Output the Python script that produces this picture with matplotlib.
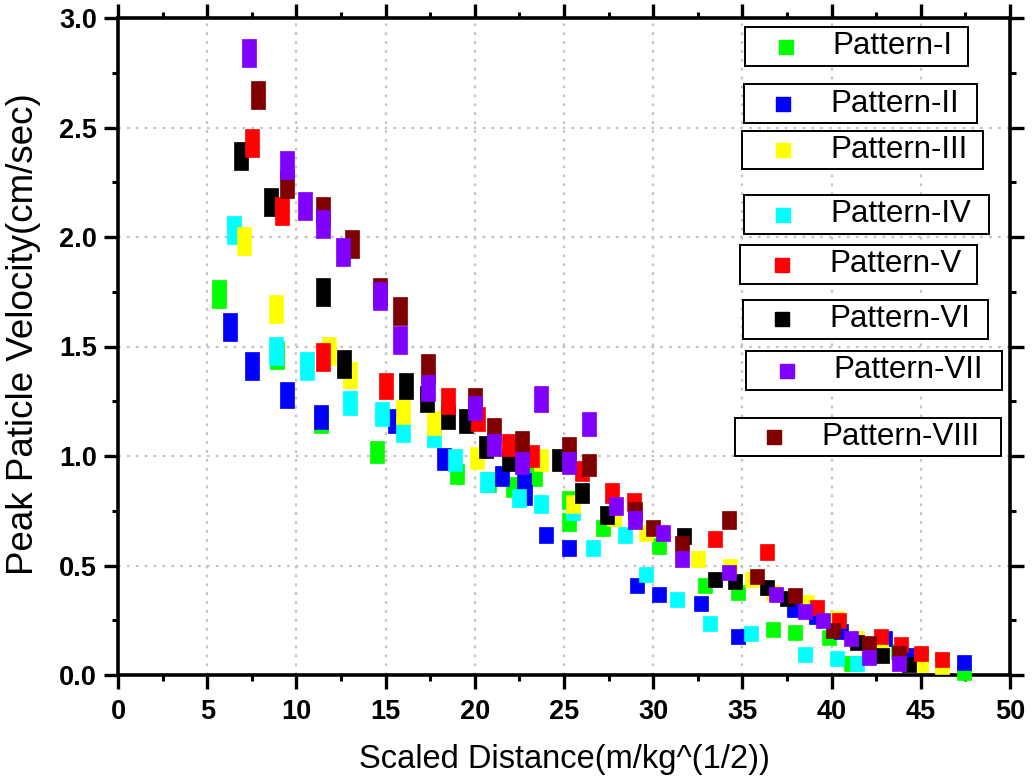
import numpy as np
import matplotlib
matplotlib.use("Agg")
import matplotlib.pyplot as plt
from matplotlib.path import Path
from matplotlib.patches import Rectangle
from matplotlib.lines import Line2D
from matplotlib.ticker import MultipleLocator

plt.rcParams['font.family'] = ['Liberation Sans', 'DejaVu Sans']

# scaled distance / peak particle velocity for each blasting pattern
p1_x = [5.65, 8.9, 11.36, 14.5, 18.99, 20.8, 22.15, 23.4, 25.3, 25.3, 27.2, 30.35, 32.9, 34.76,
        36.7, 37.95, 39.86, 41.1, 43.7, 45.0, 46.2, 47.4]
p1_y = [1.74, 1.46, 1.16, 1.02, 0.92, 0.88, 0.86, 0.91, 0.80, 0.70, 0.67, 0.59, 0.41, 0.38,
        0.21, 0.195, 0.175, 0.053, 0.11, 0.09, 0.065, 0.015]

p2_x = [6.3, 7.53, 9.46, 11.36, 15.5, 18.3, 21.5, 22.76, 22.8, 24.0, 25.3, 29.07, 30.35, 32.7,
        34.76, 37.9, 39.1, 40.5, 43.0, 44.25, 47.4]
p2_y = [1.59, 1.41, 1.28, 1.18, 1.16, 0.985, 0.91, 0.875, 0.82, 0.64, 0.58, 0.41, 0.37, 0.33,
        0.18, 0.30, 0.27, 0.20, 0.17, 0.09, 0.058]

p3_x = [7.07, 8.86, 11.8, 13.0, 16.0, 17.74, 20.1, 23.7, 25.5, 27.8, 29.6, 32.5, 34.3, 35.56,
        36.74, 38.6, 40.3, 41.45, 42.76, 45.0, 46.2]
p3_y = [1.98, 1.67, 1.48, 1.37, 1.20, 1.15, 0.99, 0.98, 0.78, 0.72, 0.65, 0.53, 0.50, 0.44,
        0.38, 0.335, 0.26, 0.17, 0.12, 0.05, 0.04]

p4_x = [6.5, 8.86, 10.6, 13.0, 14.8, 16.0, 17.74, 18.9, 20.7, 22.5, 23.7, 25.5, 26.6, 28.4,
        29.6, 31.36, 33.2, 35.5, 38.5, 40.3, 41.45]
p4_y = [2.03, 1.48, 1.41, 1.24, 1.19, 1.12, 1.09, 0.98, 0.88, 0.81, 0.78, 0.75, 0.58, 0.64,
        0.46, 0.345, 0.236, 0.19, 0.094, 0.076, 0.055]

p5_x = [7.5, 9.2, 11.5, 15.0, 18.47, 20.2, 21.9, 23.2, 26.0, 27.7, 28.9, 33.47, 36.4, 39.2,
        40.4, 42.76, 43.9, 45.0, 46.2]
p5_y = [2.43, 2.12, 1.45, 1.32, 1.25, 1.17, 1.05, 1.00, 0.93, 0.83, 0.79, 0.62, 0.56, 0.31,
        0.25, 0.18, 0.14, 0.10, 0.075]

p6_x = [6.9, 8.6, 11.5, 12.65, 16.15, 17.3, 18.5, 19.53, 20.6, 21.9, 24.7, 26.0, 27.4, 31.75,
        33.47, 34.6, 36.4, 37.5, 41.4, 42.8, 44.35]
p6_y = [2.37, 2.16, 1.75, 1.42, 1.32, 1.26, 1.18, 1.16, 1.04, 0.98, 0.98, 0.83, 0.73, 0.635,
        0.44, 0.43, 0.40, 0.35, 0.15, 0.09, 0.05]

p7_x = [7.35, 9.46, 10.5, 11.5, 12.6, 14.7, 15.8, 17.4, 20.0, 21.1, 22.65, 23.7, 25.3, 26.4,
        27.9, 28.97, 30.56, 31.6, 34.25, 36.9, 38.5, 39.5, 41.1, 42.1, 43.8]
p7_y = [2.84, 2.33, 2.14, 2.06, 1.93, 1.73, 1.53, 1.31, 1.22, 1.05, 0.97, 1.26, 0.97, 1.145,
        0.77, 0.71, 0.65, 0.53, 0.47, 0.37, 0.29, 0.25, 0.17, 0.084, 0.053]

p8_x = [7.87, 9.46, 11.5, 13.1, 14.7, 15.8, 17.4, 20.0, 21.1, 22.65, 25.3, 26.4, 28.97, 30.0,
        31.6, 34.25, 35.8, 37.95, 40.1, 42.1, 43.8]
p8_y = [2.65, 2.24, 2.12, 1.97, 1.75, 1.66, 1.40, 1.25, 1.12, 1.065, 1.035, 0.96, 0.75, 0.67,
        0.60, 0.71, 0.45, 0.365, 0.205, 0.145, 0.10]

labels = ["Pattern-I", "Pattern-II", "Pattern-III", "Pattern-IV",
          "Pattern-V", "Pattern-VI", "Pattern-VII", "Pattern-VIII"]
colors = ["#00ff00", "#0000ff", "#ffff00", "#00ffff",
          "#ff0000", "#000000", "#8000ff", "#800000"]
xs = [p1_x, p2_x, p3_x, p4_x, p5_x, p6_x, p7_x, p8_x]
ys = [p1_y, p2_y, p3_y, p4_y, p5_y, p6_y, p7_y, p8_y]

# drawing order (later on top)
order = [0, 1, 3, 2, 5, 4, 7, 6]

W, H = 1032, 779
fig = plt.figure(figsize=(W / 100, H / 100), dpi=100)
ax = fig.add_axes([118 / W, 1 - 675 / H, (1010 - 118) / W, (675 - 18) / H])

PX = 72 / 100  # points per pixel


def rect_marker(w, h):
    return Path([(-w / 2, -h / 2), (w / 2, -h / 2), (w / 2, h / 2), (-w / 2, h / 2), (-w / 2, -h / 2)],
                [Path.MOVETO, Path.LINETO, Path.LINETO, Path.LINETO, Path.CLOSEPOLY])


for i in order:
    for x, y in zip(xs[i], ys[i]):
        h = float(np.clip(16 + 14 * (y - 0.6), 15, 28))
        w = 14.0
        ax.plot([x], [y], ls="none", marker=rect_marker(w, h), ms=max(w, h) * PX,
                mfc=colors[i], mec=colors[i], mew=0.5, zorder=3, clip_on=False)

ax.set_xlim(0, 50)
ax.set_ylim(0, 3.0)
ax.xaxis.set_major_locator(MultipleLocator(5))
ax.xaxis.set_minor_locator(MultipleLocator(2.5))
ax.yaxis.set_major_locator(MultipleLocator(0.5))
ax.yaxis.set_minor_locator(MultipleLocator(0.25))
ax.set_yticks(np.arange(0, 3.01, 0.5))
ax.set_yticklabels(["%.1f" % v for v in np.arange(0, 3.01, 0.5)])

ax.grid(True, which="major", ls=(0, (1.2, 2.8)), lw=1.6, color="#c2c2c2", zorder=0)
ax.set_axisbelow(True)

for s in ax.spines.values():
    s.set_linewidth(2.6)
ax.tick_params(which="both", direction="out", top=True, right=True, color="black")
ax.tick_params(which="major", length=10, width=2.4)
ax.tick_params(which="minor", length=4.5, width=2.2)

for lab in ax.get_xticklabels() + ax.get_yticklabels():
    lab.set_fontweight("bold")
    lab.set_fontsize(19.5)
ax.tick_params(axis="x", pad=7)
ax.tick_params(axis="y", pad=5)

ax.set_xlabel("Scaled Distance(m/kg^(1/2))", fontsize=23.5)
ax.xaxis.set_label_coords(0.5, -0.105)
ax.set_ylabel("Peak Paticle Velocity(cm/sec)", fontsize=26.5)
ax.yaxis.set_label_coords(-0.086, 0.519)

# one framed entry per pattern on the right side
boxes = [(745, 27, 968, 66, 786, 832), (744, 84, 977, 123, 783, 830),
         (742, 131, 983, 169, 783, 830), (744, 195, 989, 234, 783, 830),
         (740, 245, 977, 284, 782, 829), (743, 300, 988, 339, 782, 829),
         (746, 351, 1002, 390, 787, 833), (735, 418, 1001, 456, 774, 821)]
for i, (x0, y0, x1, y1, mx, tx) in enumerate(boxes):
    fig.add_artist(Rectangle((x0 / W, 1 - y1 / H), (x1 - x0) / W, (y1 - y0) / H,
                             transform=fig.transFigure, facecolor="white",
                             edgecolor="black", lw=1.4, zorder=5))
    yc = 1 - (y0 + y1) / 2 / H
    fig.add_artist(Line2D([mx / W], [yc], transform=fig.transFigure, ls="none", marker="s",
                          ms=14 * PX, mfc=colors[i], mec=colors[i], zorder=6))
    fig.text(tx / W, yc, labels[i], ha="left", va="center", fontsize=22.5, zorder=6)

fig.savefig("out.png", dpi=100)
